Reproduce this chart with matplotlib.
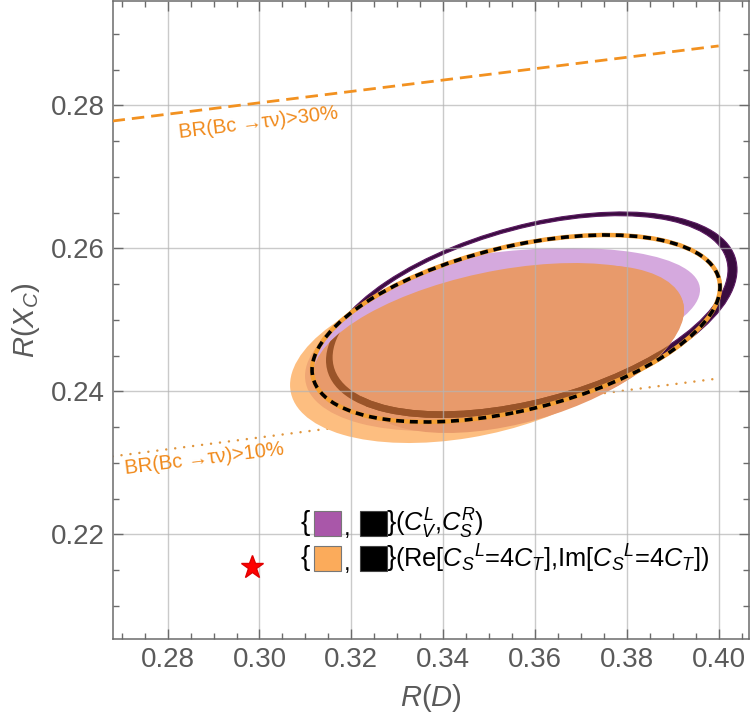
import numpy as np
import matplotlib
matplotlib.use("Agg")
import matplotlib.pyplot as plt
from matplotlib.path import Path
from matplotlib.patches import PathPatch, Rectangle
from matplotlib.transforms import Affine2D
from matplotlib.ticker import MultipleLocator, FormatStrFormatter

plt.rcParams["font.family"] = ["Liberation Sans", "DejaVu Sans"]
plt.rcParams["mathtext.fontset"] = "custom"
plt.rcParams["mathtext.rm"] = "Liberation Sans"
plt.rcParams["mathtext.it"] = "Liberation Sans:italic"
plt.rcParams["mathtext.bf"] = "Liberation Sans:bold"

# allowed regions, read off the picture as ellipse extents:
# (R(D) left, R(D) right, R(Xc) bottom, R(Xc) top, R(D) where the top is reached)
ring_outer = (0.31449, 0.40400, 0.23627, 0.26508, 0.37896)
ring_inner = (0.31593, 0.40204, 0.23720, 0.26456, 0.37830)
dashed_ring = (0.31145, 0.40030, 0.23571, 0.26186, 0.37558)
purple_fill = (0.30012, 0.39594, 0.24018, 0.26004, 0.36763)
orange_outer = (0.30666, 0.38505, 0.23277, 0.25738, 0.35922)
orange_mid = (0.30992, 0.39159, 0.23445, 0.25808, 0.36502)
overlap_core = (0.31166, 0.39246, 0.23571, 0.25794, 0.36857)
overlap_low = (0.32190, 0.39246, 0.23417, 0.25766, 0.37351)

# Bc -> tau nu branching ratio bounds
br30_x = [0.268, 0.400]
br30_y = [0.2778, 0.2883]
br10_x = [0.268, 0.400]
br10_y = [0.2309, 0.2418]

sm_point = (0.2984, 0.2154)

x_ticks = [0.28, 0.30, 0.32, 0.34, 0.36, 0.38, 0.40]
y_ticks = [0.22, 0.24, 0.26, 0.28]


def ellipse_path(ext, reverse=False):
    x0, x1, y0, y1, xt = ext
    cx, cy = (x0 + x1) / 2, (y0 + y1) / 2
    wx, wy = (x1 - x0) / 2, (y1 - y0) / 2
    l21 = (xt - cx) * wy / wx
    l22 = np.sqrt(wy ** 2 - l21 ** 2)
    s = -1 if reverse else 1
    tr = Affine2D(np.array([[wx, 0, cx], [l21, s * l22, cy], [0, 0, 1]]))
    return tr.transform_path(Path.unit_circle())


fig = plt.figure(figsize=(7.5, 7.24), dpi=100)
ax = fig.add_axes([0.1503, 0.1174, 0.8481, 0.8806])
ax.set_xlim(0.26804, 0.40657)
ax.set_ylim(0.20536, 0.29452)

ring = Path.make_compound_path(ellipse_path(ring_outer), ellipse_path(ring_inner, True))
ax.add_patch(PathPatch(ring, fc="#3a0c40", ec="#5c1a62", lw=0.8, zorder=1.0))

ax.add_patch(PathPatch(ellipse_path(orange_outer), fc="#fdbe80", ec="none", zorder=1.1))
ax.add_patch(PathPatch(ellipse_path(orange_mid), fc="#f0a674", ec="none", zorder=1.2))

purple = PathPatch(ellipse_path(purple_fill), fc="#d5a9de", ec="none", zorder=1.3)
ax.add_patch(purple)
purple.set_clip_path(PathPatch(ellipse_path(dashed_ring), transform=ax.transData))

ax.add_patch(PathPatch(ellipse_path(overlap_core), fc="#e89a6b", ec="none", zorder=1.4))
ax.add_patch(PathPatch(ellipse_path(overlap_low), fc="#e89a6b", ec="none", zorder=1.5))

# lower part of the black ring seen through the orange fill
for ext in (overlap_core, overlap_low):
    brown = PathPatch(ring, fc="#9a5429", ec="none", zorder=1.6)
    ax.add_patch(brown)
    brown.set_clip_path(PathPatch(ellipse_path(ext), transform=ax.transData))

dpath = ellipse_path(dashed_ring)
ax.add_patch(PathPatch(dpath, fill=False, ec="#f5a035", lw=3.2, zorder=3))
ax.add_patch(PathPatch(dpath, fill=False, ec="black", lw=2.6, ls=(0, (2.2, 1.6)), zorder=3.1))

ax.plot(br30_x, br30_y, color="#f29120", lw=2, ls=(0, (4.5, 2.5)), zorder=3)
ax.plot(br10_x, br10_y, color="#e0953c", lw=1.8, ls=(0, (0.01, 3.6)),
        dash_capstyle="round", zorder=0.9)
ax.text(0.2997, 0.2776, "BR(Bc \u2192\u03c4\u03bd)>30%", rotation=7, color="#f08a1c",
        fontsize=14.5, ha="center", va="center", rotation_mode="anchor", zorder=4)
ax.text(0.2879, 0.2306, "BR(Bc \u2192\u03c4\u03bd)>10%", rotation=7, color="#f08a1c",
        fontsize=14.5, ha="center", va="center", rotation_mode="anchor", zorder=4)

ax.plot(*sm_point, marker="*", color="#ff0000", ms=17, mec="#e00000", zorder=5)

# legend
rows = [
    (0.1812, "#a957a9", r"($C_V^L$,$C_S^R$)"),
    (0.1263, "#fbab5b", r"(Re[$C_S{}^L$=4$C_T$],Im[$C_S{}^L$=4$C_T$])"),
]
for yc, col, label in rows:
    ax.text(0.3025, yc, "{", transform=ax.transAxes, fontsize=20, ha="center", va="center")
    ax.add_patch(Rectangle((0.3166, yc - 0.019), 0.0424, 0.038, transform=ax.transAxes,
                           fc=col, ec="#777777", lw=0.8, zorder=5))
    ax.text(0.3687, yc - 0.008, ",", transform=ax.transAxes, fontsize=17, ha="center", va="center")
    ax.add_patch(Rectangle((0.3888, yc - 0.019), 0.0424, 0.038, transform=ax.transAxes,
                           fc="black", ec="#444444", lw=0.8, zorder=5))
    ax.text(0.4375, yc, "}", transform=ax.transAxes, fontsize=20, ha="center", va="center")
    ax.text(0.4430, yc, label, transform=ax.transAxes, fontsize=18.3, ha="left", va="center")

ax.xaxis.set_major_locator(plt.FixedLocator(x_ticks))
ax.yaxis.set_major_locator(plt.FixedLocator(y_ticks))
ax.xaxis.set_minor_locator(MultipleLocator(0.005))
ax.yaxis.set_minor_locator(MultipleLocator(0.005))
ax.xaxis.set_major_formatter(FormatStrFormatter("%.2f"))
ax.yaxis.set_major_formatter(FormatStrFormatter("%.2f"))
ax.tick_params(which="both", direction="in", top=True, right=True, color="#6b6b6b",
               width=1, labelsize=20, labelcolor="#5a5a5a")
ax.tick_params(which="major", length=7, pad=6)
ax.tick_params(which="minor", length=4)
for sp in ax.spines.values():
    sp.set_color("#6b6b6b")
    sp.set_linewidth(1.1)

ax.set_axisbelow(False)
ax.grid(True, which="major", color="#b4b4b4", lw=1, alpha=0.7)

ax.set_xlabel(r"$R(D)$", fontsize=21, color="#5a5a5a", labelpad=6)
ax.set_ylabel(r"$R(X_C)$", fontsize=21, color="#5a5a5a", labelpad=6)

fig.savefig("out.png", dpi=100)
